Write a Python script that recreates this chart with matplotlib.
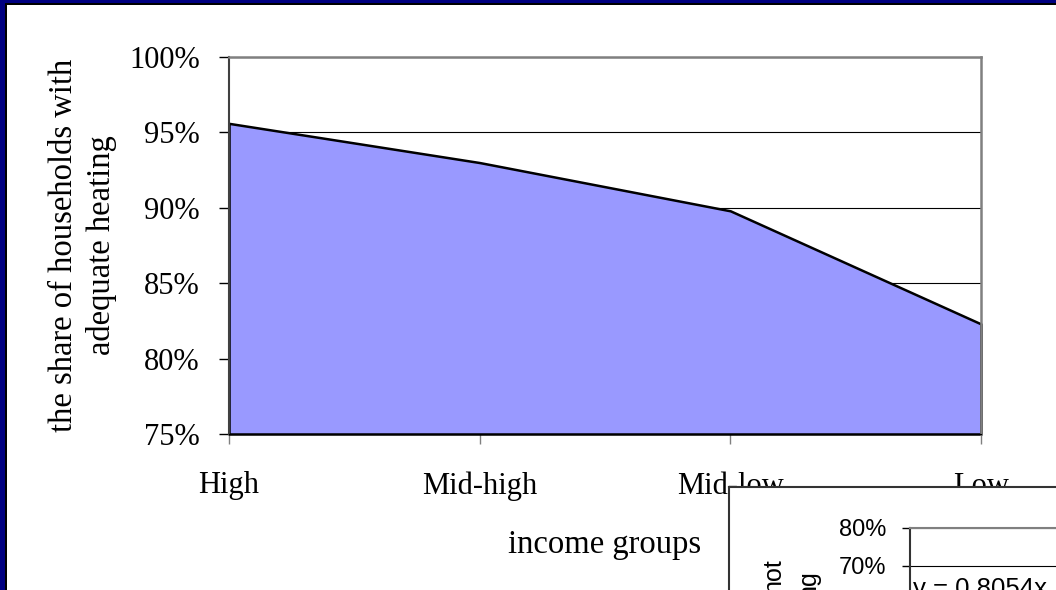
import matplotlib
matplotlib.use("Agg")
import matplotlib.pyplot as plt
from matplotlib.patches import Rectangle
from matplotlib.ticker import PercentFormatter

# data
income_groups = ["High", "Mid-high", "Mid-low", "Low"]
heating_share = [0.956, 0.930, 0.898, 0.823]
share_ticks = [0.75, 0.80, 0.85, 0.90, 0.95, 1.00]
inset_ticks = [0.0, 0.1, 0.2, 0.3, 0.4, 0.5, 0.6, 0.7, 0.8]
trend_label = "y = 0.8054x"

W, H = 1056, 590
plt.rcParams['font.family'] = ['Liberation Serif', 'DejaVu Serif']
fig = plt.figure(figsize=(W / 100, H / 100), dpi=100)
fig.patch.set_facecolor('white')


def fx(px):
    return px / W


def fy(py):
    return 1 - py / H


# slide frame (navy + black on left and top)
for (x0, y0, x1, y1, c) in [(0, 0, 5, H, '#000080'), (0, 0, W, 3, '#000080'),
                            (5, 3, 7, H, 'black'), (5, 3, W, 5, 'black')]:
    fig.add_artist(Rectangle((fx(x0), fy(y1)), fx(x1) - fx(x0), fy(y0) - fy(y1),
                             transform=fig.transFigure, color=c, lw=0))

# main area chart
ax = fig.add_axes([fx(229), fy(434), fx(981) - fx(229), fy(57) - fy(434)])
xs = list(range(len(income_groups)))
ax.fill_between(xs, heating_share, 0.75, facecolor='#9999ff', edgecolor='black',
                linewidth=1.8, zorder=2, clip_on=False)
ax.set_xlim(0, len(income_groups) - 1)
ax.set_ylim(0.75, 1.0)
ax.set_xticks(xs, income_groups)
ax.set_yticks(share_ticks)
ax.yaxis.set_major_formatter(PercentFormatter(1.0, decimals=0))
ax.grid(axis='y', color='black', linewidth=0.8)
ax.set_axisbelow(True)
for side in ['top', 'right']:
    ax.spines[side].set_color('#808080')
    ax.spines[side].set_linewidth(1.8)
ax.spines['left'].set_color('#404040')
ax.spines['left'].set_linewidth(1.5)
ax.spines['bottom'].set_color('black')
ax.tick_params(axis='y', direction='out', length=7, width=1, color='black', pad=14, labelsize=22)
ax.tick_params(axis='x', direction='out', length=7, width=1, color='#808080', pad=20, labelsize=22)

ax.set_xlabel("income groups", fontsize=23.5, va='center')
ax.xaxis.set_label_coords(0.5, (434 - 545) / 377)
ax.set_ylabel("the share of households with\nadequate heating", fontsize=23.5,
              va='center', linespacing=1.3)
ax.yaxis.set_label_coords((83 - 229) / 752, 0.5)

# embedded second chart, cut off at the corner
box = fig.add_axes([fx(729), -0.1, 0.5, fy(487) + 0.1], zorder=3)
box.set_facecolor('white')
box.set_xticks([])
box.set_yticks([])
for sp in box.spines.values():
    sp.set_color('#333333')
    sp.set_linewidth(1.5)

inset_h = 8 * 38 / H
inset = fig.add_axes([fx(910), fy(528) - inset_h, 0.3, inset_h], zorder=4)
inset.set_facecolor('white')
inset.set_ylim(0, 0.8)
inset.set_xticks([])
inset.set_yticks(inset_ticks)
inset.yaxis.set_major_formatter(PercentFormatter(1.0, decimals=0))
inset.grid(axis='y', color='black', linewidth=0.8)
inset.set_axisbelow(True)
inset.spines['top'].set_color('#808080')
inset.spines['top'].set_linewidth(1.5)
inset.spines['left'].set_color('#333333')
inset.spines['left'].set_linewidth(1.5)
inset.tick_params(axis='y', direction='out', length=6, width=1, pad=11, labelsize=17,
                  labelfontfamily='Liberation Sans')

fig.text(fx(913), fy(577), trend_label, ha='left', va='top', fontsize=18.5,
         family='Liberation Sans', zorder=5)
fig.text(fx(773), fy(558), "not", rotation=90, ha='center', va='top', fontsize=18,
         family='Liberation Sans', zorder=5)
fig.text(fx(808), fy(570), "ng", rotation=90, ha='center', va='top', fontsize=18,
         family='Liberation Sans', zorder=5)

fig.savefig("out.png", dpi=100)
